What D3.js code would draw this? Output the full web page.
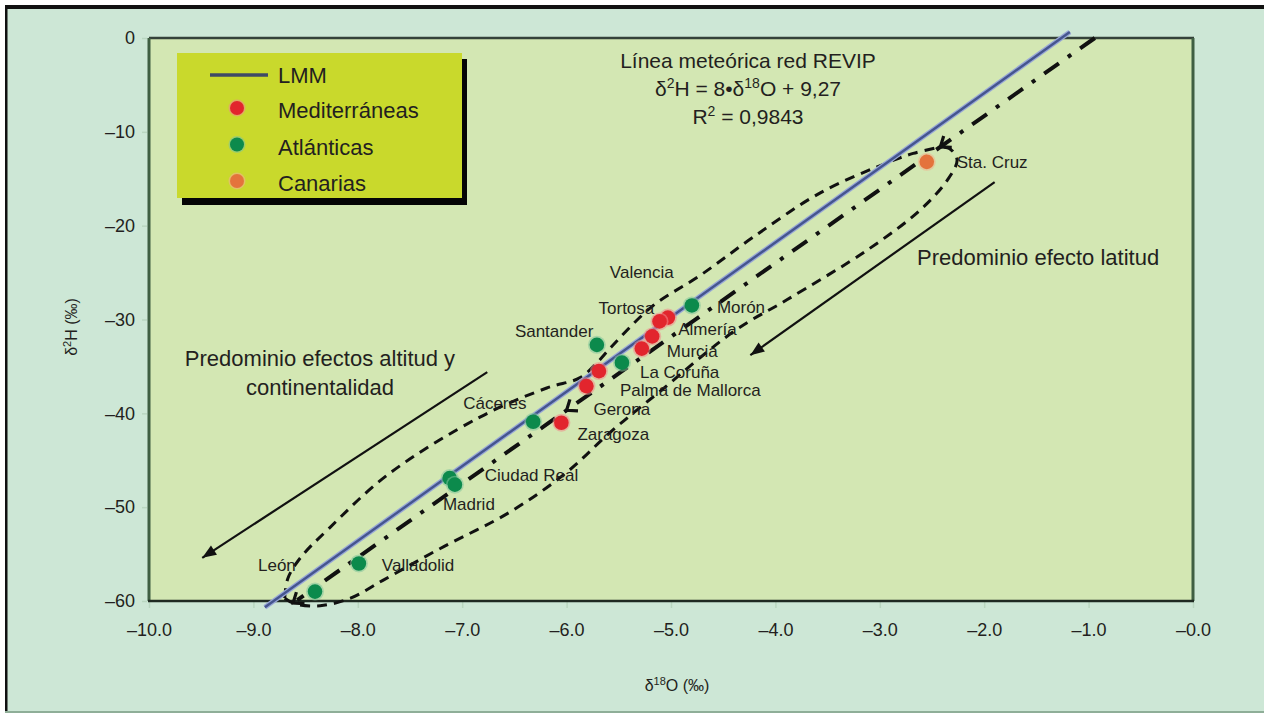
<!DOCTYPE html>
<html><head><meta charset="utf-8">
<script src="https://cdn.jsdelivr.net/npm/d3@7"></script>
<style>body{margin:0;background:#fff} svg{display:block}</style>
</head><body>
<svg id="chart" width="1264" height="713"></svg>
<script>
// ---------- data ----------
const xTicks = [-10, -9, -8, -7, -6, -5, -4, -3, -2, -1, 0];
const xTickLabels = ["–10.0", "–9.0", "–8.0", "–7.0", "–6.0", "–5.0", "–4.0", "–3.0", "–2.0", "–1.0", "–0.0"];
const yTicks = [0, -10, -20, -30, -40, -50, -60];
const yTickLabels = ["0", "–10", "–20", "–30", "–40", "–50", "–60"];

const stations = ["Sta. Cruz", "Morón", "Valencia", "Tortosa", "Almería", "Murcia", "La Coruña", "Santander",
  "Palma de Mallorca", "Gerona", "Zaragoza", "Cáceres", "Ciudad Real", "Madrid", "Valladolid", "León"];
const d18O = [-2.55, -4.80, -5.03, -5.11, -5.18, -5.28, -5.47, -5.71, -5.69, -5.81, -6.05, -6.32, -7.12, -7.07, -7.99, -8.41];
const d2H  = [-13.2, -28.5, -29.8, -30.2, -31.8, -33.1, -34.6, -32.7, -35.5, -37.1, -41.0, -40.9, -46.9, -47.6, -56.0, -59.0];
const group = ["Canarias", "Atlánticas", "Mediterráneas", "Mediterráneas", "Mediterráneas", "Mediterráneas", "Atlánticas", "Atlánticas",
  "Mediterráneas", "Mediterráneas", "Mediterráneas", "Atlánticas", "Atlánticas", "Atlánticas", "Atlánticas", "Atlánticas"];
const groupNames = ["Mediterráneas", "Atlánticas", "Canarias"];

// meteoric line (LMM) as drawn
const lmmX = [-8.89, -1.18];
const lmmY = [-60.66, 0.64];
// dash-dot trend line
const trendX = [-8.58, -0.94];
const trendY = [-59.9, 0];
const trendArrowX = [-2.42, -6.0, -8.62];
// dashed envelope
const upperX = [-8.70, -8.67, -8.55, -8.27, -7.72, -6.83, -6.19, -5.87, -5.70, -5.57, -5.18, -4.72, -4.21, -3.57, -2.93, -2.68, -2.42];
const upperY = [-59.7, -57.6, -55.4, -52.2, -46.6, -40.4, -37.3, -36.2, -34.5, -32.9, -28.6, -25.3, -21.2, -16.5, -13.3, -12.3, -11.6];
const lowerX = [-8.70, -8.60, -8.36, -8.07, -7.76, -7.21, -6.54, -6.00, -5.58, -5.11, -4.39, -3.89, -3.12, -2.61, -2.35, -2.26, -2.33, -2.42];
const lowerY = [-59.7, -60.3, -60.5, -59.7, -57.8, -54.4, -50.5, -46.3, -42.0, -37.7, -31.2, -27.9, -22.6, -18.3, -15.1, -13.0, -11.8, -11.6];
// annotation arrows
const latArrowX = [-1.90, -4.24];
const latArrowY = [-15.35, -33.8];
const altArrowX = [-6.76, -9.49];
const altArrowY = [-35.6, -55.4];

// ---------- layout ----------
const W = 1264, H = 713;
const plot = {left: 149, right: 1193, top: 38, bottom: 601};
const labelDx = [30, 25, -58, -61, 26, 25, 18, -82, 21, 7, 16, -70, 35, -12, 23, -57];
const labelDy = [6, 8, -40, -7, -1, 8, 15, -8, 25, 29, 17, -13, 3, 25, 8, -21];
const colors = {"Mediterráneas": "#e2252d", "Atlánticas": "#0c8a4c", "Canarias": "#e4733c"};
const halo = {"Mediterráneas": "#f28a8a", "Atlánticas": "#7fc49a", "Canarias": "#f2b08a"};
const FONT = "'Liberation Sans', Arial, sans-serif";
const TXT = "#231f20";

const svg = d3.select("#chart").style("font-family", FONT);
const x = d3.scaleLinear().domain([-10, 0]).range([plot.left, plot.right]);
const y = d3.scaleLinear().domain([0, -60]).range([plot.top, plot.bottom]);

// background & frame
svg.append("rect").attr("width", W).attr("height", H).attr("fill", "#ffffff");
svg.append("rect").attr("x", 6).attr("y", 8).attr("width", W - 6).attr("height", H - 8).attr("fill", "#cde7d6");
svg.append("rect").attr("x", 5).attr("y", 5).attr("width", W - 5).attr("height", 4).attr("fill", "#111");
svg.append("rect").attr("x", 5).attr("y", 5).attr("width", 2.5).attr("height", H - 5).attr("fill", "#111");
svg.append("rect").attr("x", 5).attr("y", H - 2).attr("width", W - 5).attr("height", 2).attr("fill", "#8fae98");

// plot area
svg.append("rect").attr("x", plot.left).attr("y", plot.top)
  .attr("width", plot.right - plot.left).attr("height", plot.bottom - plot.top).attr("fill", "#d3e7b3");
svg.append("line").attr("x1", plot.left).attr("x2", plot.right + 1).attr("y1", plot.top).attr("y2", plot.top)
  .attr("stroke", "#34423a").attr("stroke-width", 2.5);
svg.append("line").attr("x1", plot.left).attr("x2", plot.left).attr("y1", plot.top).attr("y2", plot.bottom)
  .attr("stroke", "#3f5f42").attr("stroke-width", 3);
svg.append("line").attr("x1", plot.right).attr("x2", plot.right).attr("y1", plot.top).attr("y2", plot.bottom)
  .attr("stroke", "#3f5f42").attr("stroke-width", 3);

// axes
const yAxis = d3.axisLeft(y).tickValues(yTicks).tickFormat((d, i) => yTickLabels[i]).tickSize(5).tickPadding(7);
const gy = svg.append("g").attr("transform", `translate(${plot.left - 2},0)`).call(yAxis);
const xAxis = d3.axisBottom(x).tickValues(xTicks).tickFormat((d, i) => xTickLabels[i]).tickSize(6).tickPadding(15);
const gx = svg.append("g").attr("transform", `translate(0,${plot.bottom + 1})`).call(xAxis);
[gx, gy].forEach(g => {
  g.select(".domain").remove();
  g.selectAll(".tick line").attr("stroke", "#b9d6c0").attr("stroke-width", 1.5);
  g.selectAll(".tick text").attr("fill", TXT).style("font-size", "18px").style("font-family", FONT);
});
svg.append("line").attr("x1", plot.left - 1).attr("x2", plot.right + 1).attr("y1", plot.bottom).attr("y2", plot.bottom)
  .attr("stroke", "#1f2a22").attr("stroke-width", 2.5);

// axis titles
const yt = svg.append("text").attr("transform", "translate(77,327) rotate(-90)").attr("text-anchor", "middle")
  .attr("fill", TXT).style("font-size", "16px");
yt.append("tspan").text("δ");
yt.append("tspan").text("2").attr("font-size", "11px").attr("dy", -6);
yt.append("tspan").text("H (‰)").attr("dy", 6);
const xt = svg.append("text").attr("x", 677).attr("y", 691).attr("text-anchor", "middle")
  .attr("fill", TXT).style("font-size", "16px");
xt.append("tspan").text("δ");
xt.append("tspan").text("18").attr("font-size", "11px").attr("dy", -6);
xt.append("tspan").text("O (‰)").attr("dy", 6);

// dashed envelope
const lineGen = d3.line().x(d => x(d[0])).y(d => y(d[1])).curve(d3.curveCatmullRom.alpha(0.5));
const dashStyle = sel => sel.attr("fill", "none").attr("stroke", "#111").attr("stroke-width", 3).attr("stroke-dasharray", "10,7");
svg.append("path").attr("d", lineGen(upperX.map((v, i) => [v, upperY[i]]))).call(dashStyle);
svg.append("path").attr("d", lineGen(lowerX.map((v, i) => [v, lowerY[i]]))).call(dashStyle);

// LMM line
const lmmPts = lmmX.map((v, i) => [x(v), y(lmmY[i])]);
svg.append("line").attr("x1", lmmPts[0][0]).attr("y1", lmmPts[0][1]).attr("x2", lmmPts[1][0]).attr("y2", lmmPts[1][1])
  .attr("stroke", "#98a8d6").attr("stroke-width", 5);
svg.append("line").attr("x1", lmmPts[0][0]).attr("y1", lmmPts[0][1]).attr("x2", lmmPts[1][0]).attr("y2", lmmPts[1][1])
  .attr("stroke", "#45558f").attr("stroke-width", 2.4);

// dash-dot trend
const tp = trendX.map((v, i) => [x(v), y(trendY[i])]);
svg.append("line").attr("x1", tp[1][0]).attr("y1", tp[1][1]).attr("x2", tp[0][0]).attr("y2", tp[0][1])
  .attr("stroke", "#111").attr("stroke-width", 4).attr("stroke-dasharray", "18,11,4,11");
const tAng = Math.atan2(tp[0][1] - tp[1][1], tp[0][0] - tp[1][0]) * 180 / Math.PI;
const trendSlope = (trendY[1] - trendY[0]) / (trendX[1] - trendX[0]);
trendArrowX.forEach(v => {
  const vy = trendY[0] + (v - trendX[0]) * trendSlope;
  svg.append("path").attr("d", "M-9,-7 L0,0 L-9,7")
    .attr("transform", `translate(${x(v)},${y(vy)}) rotate(${tAng})`)
    .attr("fill", "none").attr("stroke", "#111").attr("stroke-width", 3.2);
});

// solid annotation arrows
function arrow(xs, ys) {
  const x1 = x(xs[0]), y1 = y(ys[0]), x2 = x(xs[1]), y2 = y(ys[1]);
  const ang = Math.atan2(y2 - y1, x2 - x1) * 180 / Math.PI;
  svg.append("line").attr("x1", x1).attr("y1", y1).attr("x2", x2).attr("y2", y2)
    .attr("stroke", "#111").attr("stroke-width", 2.2);
  svg.append("path").attr("d", "M0,0 L-14,-5.5 L-14,5.5 Z")
    .attr("transform", `translate(${x2},${y2}) rotate(${ang})`).attr("fill", "#111");
}
arrow(latArrowX, latArrowY);
arrow(altArrowX, altArrowY);

// points
const pts = svg.append("g");
stations.forEach((s, i) => {
  const cx = x(d18O[i]), cy = y(d2H[i]);
  pts.append("circle").attr("cx", cx).attr("cy", cy).attr("r", 9).attr("fill", halo[group[i]]).attr("opacity", 0.55);
  pts.append("circle").attr("cx", cx).attr("cy", cy).attr("r", 7.3).attr("fill", colors[group[i]]);
});
// labels
stations.forEach((s, i) => {
  svg.append("text").attr("x", x(d18O[i]) + labelDx[i]).attr("y", y(d2H[i]) + labelDy[i])
    .attr("fill", TXT).style("font-size", "17px").text(s);
});

// title block
const tb = svg.append("g").attr("fill", TXT).attr("text-anchor", "middle").style("font-size", "21px");
tb.append("text").attr("x", 748).attr("y", 68).text("Línea meteórica red REVIP");
const l2 = tb.append("text").attr("x", 748).attr("y", 96);
l2.append("tspan").text("δ");
l2.append("tspan").text("2").attr("font-size", "14px").attr("dy", -8);
l2.append("tspan").text("H = 8•δ").attr("dy", 8);
l2.append("tspan").text("18").attr("font-size", "14px").attr("dy", -8);
l2.append("tspan").text("O + 9,27").attr("dy", 8);
const l3 = tb.append("text").attr("x", 748).attr("y", 124);
l3.append("tspan").text("R");
l3.append("tspan").text("2").attr("font-size", "14px").attr("dy", -8);
l3.append("tspan").text(" = 0,9843").attr("dy", 8);

// annotations
svg.append("text").attr("x", 917).attr("y", 265).attr("fill", TXT).style("font-size", "22px").text("Predominio efecto latitud");
const an = svg.append("text").attr("fill", TXT).attr("text-anchor", "middle").style("font-size", "22px");
an.append("tspan").attr("x", 320).attr("y", 366).text("Predominio efectos altitud y");
an.append("tspan").attr("x", 320).attr("y", 395).text("continentalidad");

// legend
const lg = svg.append("g");
lg.append("rect").attr("x", 182).attr("y", 59).attr("width", 285).attr("height", 146).attr("fill", "#050505");
lg.append("rect").attr("x", 177).attr("y", 53).attr("width", 285).attr("height", 145).attr("fill", "#c9d92c");
lg.append("line").attr("x1", 210).attr("x2", 268).attr("y1", 75).attr("y2", 75).attr("stroke", "#3f4a66").attr("stroke-width", 3.5);
lg.append("text").attr("x", 278).attr("y", 83).attr("fill", TXT).style("font-size", "22px").text("LMM");
groupNames.forEach((g, i) => {
  const cy = 108 + i * 36.5;
  lg.append("circle").attr("cx", 237).attr("cy", cy).attr("r", 8.5).attr("fill", halo[g]).attr("opacity", 0.6);
  lg.append("circle").attr("cx", 237).attr("cy", cy).attr("r", 7).attr("fill", colors[g]);
  lg.append("text").attr("x", 278).attr("y", cy + 10).attr("fill", TXT).style("font-size", "22px").text(g);
});
</script>
</body></html>
